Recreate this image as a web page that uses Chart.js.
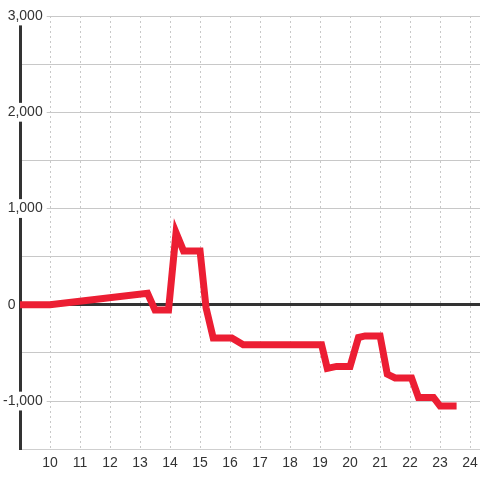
<!DOCTYPE html>
<html>
<head>
<meta charset="utf-8">
<script src="https://cdn.jsdelivr.net/npm/chart.js@4/dist/chart.umd.min.js"></script>
<style>
  html,body{margin:0;padding:0;background:#fff;}
  #wrap{width:480px;height:480px;}
</style>
</head>
<body>
<div id="wrap"><canvas id="chart" width="480" height="480"></canvas></div>
<script>
// data
const xVals = [9, 10, 13.25, 13.5, 13.95, 14.2, 14.45, 15.0, 15.2, 15.44, 16.06, 16.44, 19.05, 19.24, 19.55, 20.0, 20.28, 20.5, 21.0, 21.24, 21.5, 22.05, 22.28, 22.78, 23.0, 23.55];
const yVals = [0, 0, 120, -55, -55, 750, 560, 560, -30, -345, -345, -415, -415, -660, -640, -640, -340, -323, -323, -720, -760, -760, -962, -962, -1052, -1052];
const xTicks = [10, 11, 12, 13, 14, 15, 16, 17, 18, 19, 20, 21, 22, 23, 24];
const yTicks = [-1000, 0, 1000, 2000, 3000];

const points = xVals.map((x, i) => ({ x, y: yVals[i] }));
const font = { family: '"Liberation Sans", Arial, sans-serif', size: 14 };

new Chart(document.getElementById('chart'), {
  type: 'line',
  data: { datasets: [{ data: points, borderColor: '#ec1e33', borderWidth: 7, pointRadius: 0, tension: 0, fill: false }] },
  options: {
    responsive: false, animation: false,
    layout: { padding: { top: 16, right: 0, bottom: 2, left: 0 } },
    plugins: { legend: { display: false }, tooltip: { enabled: false } },
    scales: {
      x: {
        type: 'linear', min: 9, max: 24.33,
        afterBuildTicks: s => { s.ticks = [9, ...xTicks].map(v => ({ value: v })); },
        afterFit: s => { s.paddingLeft = 0; s.paddingRight = 0; },
        ticks: { font, color: '#333', padding: 6, maxRotation: 0, autoSkip: false,
          callback: v => xTicks.includes(v) ? String(v) : '' },
        grid: { color: '#c8c8c8', lineWidth: 1, drawTicks: false },
        border: { color: '#cfcfcf', width: 1, dash: [2, 3] }
      },
      y: {
        min: -1500, max: 3000,
        afterFit: s => { s.width = 20; },
        ticks: { stepSize: 500, font, color: '#333', mirror: true, crossAlign: 'far', padding: -17, autoSkip: false,
          callback: v => v === 0 ? '0       ' : (yTicks.includes(v) ? v.toLocaleString('en-US') : ''),
          showLabelBackdrop: true,
          backdropColor: c => (c.tick && c.tick.value !== 0 && yTicks.includes(c.tick.value)) ? '#fff' : 'rgba(0,0,0,0)',
          backdropPadding: { left: 2, right: 4, top: 1, bottom: 1 } },
        grid: { drawTicks: false,
          color: c => c.tick && c.tick.value === 0 ? '#333' : '#c8c8c8',
          lineWidth: c => c.tick && c.tick.value === 0 ? 3 : 1 },
        border: { color: '#333', width: 3 }
      }
    }
  }
});
</script>
</body>
</html>
